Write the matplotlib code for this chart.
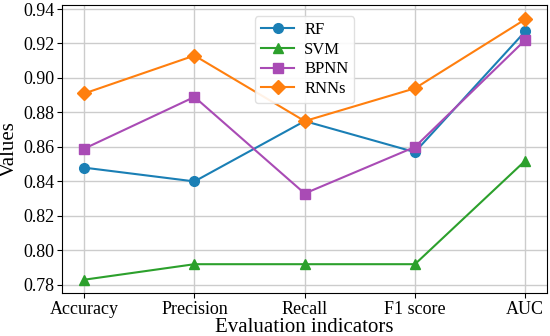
import matplotlib
matplotlib.use("Agg")
import matplotlib.pyplot as plt

indicators = ["Accuracy", "Precision", "Recall", "F1 score", "AUC"]
rf = [0.848, 0.840, 0.875, 0.857, 0.927]
svm = [0.783, 0.792, 0.792, 0.792, 0.852]
bpnn = [0.859, 0.889, 0.833, 0.860, 0.922]
rnns = [0.891, 0.913, 0.875, 0.894, 0.934]

plt.rcParams.update({"font.family": ["Liberation Serif", "DejaVu Serif"],
                     "font.size": 13})

fig, ax = plt.subplots(figsize=(5.5, 3.36), dpi=100)
x = range(len(indicators))
ax.plot(x, rf, marker="o", ms=7, lw=1.5, color="#1a7fb5", label="RF")
ax.plot(x, svm, marker="^", ms=7, lw=1.5, color="#2ca02c", label="SVM")
ax.plot(x, bpnn, marker="s", ms=7, lw=1.5, color="#a94bb5", label="BPNN")
ax.plot(x, rnns, marker="D", ms=7, lw=1.5, color="#ff7f0e", label="RNNs")

ax.set_xticks(list(x)); ax.set_xticklabels(indicators)
ax.set_xlim(-0.2, 4.2); ax.set_ylim(0.7753, 0.9423)
ax.set_yticks([0.78, 0.80, 0.82, 0.84, 0.86, 0.88, 0.90, 0.92, 0.94])
ax.yaxis.set_major_formatter(plt.FormatStrFormatter("%.2f"))
ax.tick_params(pad=2)
ax.grid(True, color="#cccccc", lw=1)
ax.set_axisbelow(True)
ax.set_xlabel("Evaluation indicators", fontsize=15, labelpad=0)
ax.set_ylabel("Values", fontsize=15, labelpad=3)
ax.legend(loc="upper center", bbox_to_anchor=(0.5, 0.99), fontsize=12,
          framealpha=0.9, edgecolor="#dddddd", handlelength=2.0,
          borderpad=0.35, labelspacing=0.22, handletextpad=0.6)
fig.subplots_adjust(left=0.113, right=0.995, top=0.985, bottom=0.128)
fig.savefig("out.png", dpi=100)
